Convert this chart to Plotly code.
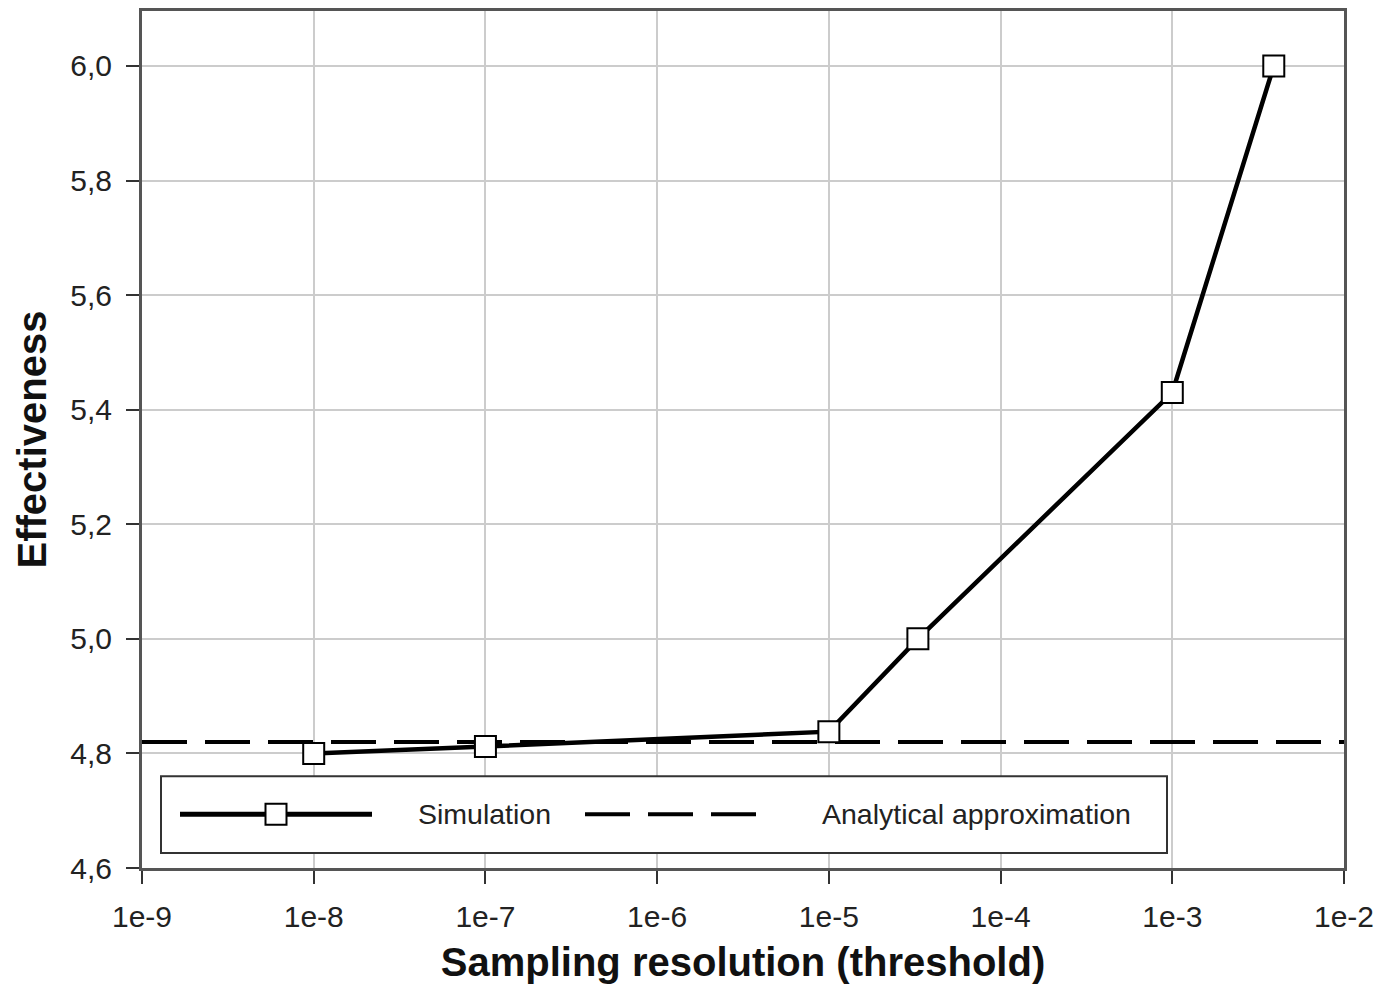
import plotly.graph_objects as go

# Data
sim_x = [1e-8, 1e-7, 1e-5, 3.3e-5, 1e-3, 3.9e-3]
sim_y = [4.80, 4.812, 4.838, 5.00, 5.43, 6.00]
approx_x = [1e-9, 1e-2]
approx_y = [4.82, 4.82]
x_tickvals = [1e-9, 1e-8, 1e-7, 1e-6, 1e-5, 1e-4, 1e-3, 1e-2]
x_ticktext = ["1e-9", "1e-8", "1e-7", "1e-6", "1e-5", "1e-4", "1e-3", "1e-2"]
y_tickvals = [4.6, 4.8, 5.0, 5.2, 5.4, 5.6, 5.8, 6.0]
legend_labels = ["Simulation", "Analytical approximation"]

OFF = 8  # page body margin
W, H = 1386 - OFF, 1000 - OFF
# plot area in screen pixels: left 142, right 1344, top 8, bottom 868
ML, MR, MT, MB = 142 - OFF, 1386 - 1344, 0, 1000 - 868
PW, PH = W - ML - MR, H - MT - MB
FONT = "Liberation Sans, Arial, sans-serif"


def px(xs):
    return (xs - OFF - ML) / PW


def py(ys):
    return (H - MB - (ys - OFF)) / PH


fig = go.Figure()
fig.add_trace(go.Scatter(
    x=approx_x, y=approx_y, mode="lines",
    line=dict(color="black", width=4, dash="45px,18px"),
    showlegend=False, hoverinfo="skip"))
fig.add_trace(go.Scatter(
    x=sim_x, y=sim_y, mode="lines+markers",
    line=dict(color="black", width=4.5),
    marker=dict(symbol="square", size=21, color="white",
                line=dict(color="black", width=2)),
    showlegend=False))

shapes = []
shapes.append(dict(type="rect", xref="paper", yref="paper",
                   x0=px(161), x1=px(1167), y0=py(853), y1=py(776),
                   line=dict(color="#333333", width=2), fillcolor="white",
                   layer="above"))
ly = py(814)
shapes.append(dict(type="line", xref="paper", yref="paper",
                   x0=px(180), x1=px(372), y0=ly, y1=ly,
                   line=dict(color="black", width=5), layer="above"))
shapes.append(dict(type="rect", xref="paper", yref="paper",
                   x0=px(276 - 10.5), x1=px(276 + 10.5),
                   y0=py(814 + 10.5), y1=py(814 - 10.5),
                   line=dict(color="black", width=2), fillcolor="white",
                   layer="above"))
shapes.append(dict(type="line", xref="paper", yref="paper",
                   x0=px(585), x1=px(757), y0=ly, y1=ly,
                   line=dict(color="black", width=4, dash="45px,18px"),
                   layer="above"))

annotations = [
    dict(text=legend_labels[0], xref="paper", yref="paper", x=px(416), y=ly,
         xanchor="left", yanchor="middle", showarrow=False,
         font=dict(family=FONT, size=28.5, color="#222222")),
    dict(text=legend_labels[1], xref="paper", yref="paper", x=px(820), y=ly,
         xanchor="left", yanchor="middle", showarrow=False,
         font=dict(family=FONT, size=28.5, color="#222222")),
]

fig.update_layout(
    width=W, height=H,
    margin=dict(l=ML, r=MR, t=MT, b=MB, pad=0),
    paper_bgcolor="white", plot_bgcolor="white",
    separators=",.",
    font=dict(family=FONT, size=30, color="#222222"),
    shapes=shapes, annotations=annotations,
    showlegend=False,
)
fig.update_xaxes(
    type="log", range=[-9, -2],
    tickvals=x_tickvals, ticktext=x_ticktext,
    ticks="outside", ticklen=13, tickwidth=2, tickcolor="#333333",
    showgrid=True, gridcolor="#cccccc", gridwidth=2,
    showline=True, linecolor="#555555", linewidth=3, mirror=True,
    tickfont=dict(size=30), ticklabelstandoff=7,
    title=dict(text="<b>Sampling resolution (threshold)</b>",
               font=dict(size=40, color="#111111"), standoff=16),
    zeroline=False,
)
fig.update_yaxes(
    range=[4.6, 6.096], tickvals=y_tickvals, tickformat=".1f",
    ticks="outside", ticklen=13, tickwidth=2, tickcolor="#333333",
    showgrid=True, gridcolor="#cccccc", gridwidth=2,
    showline=True, linecolor="#555555", linewidth=3, mirror=True,
    tickfont=dict(size=30), ticklabelstandoff=8,
    title=dict(text="<b>Effectiveness</b>",
               font=dict(size=40, color="#111111"), standoff=12),
    zeroline=False,
)

fig.write_html("out.html")
